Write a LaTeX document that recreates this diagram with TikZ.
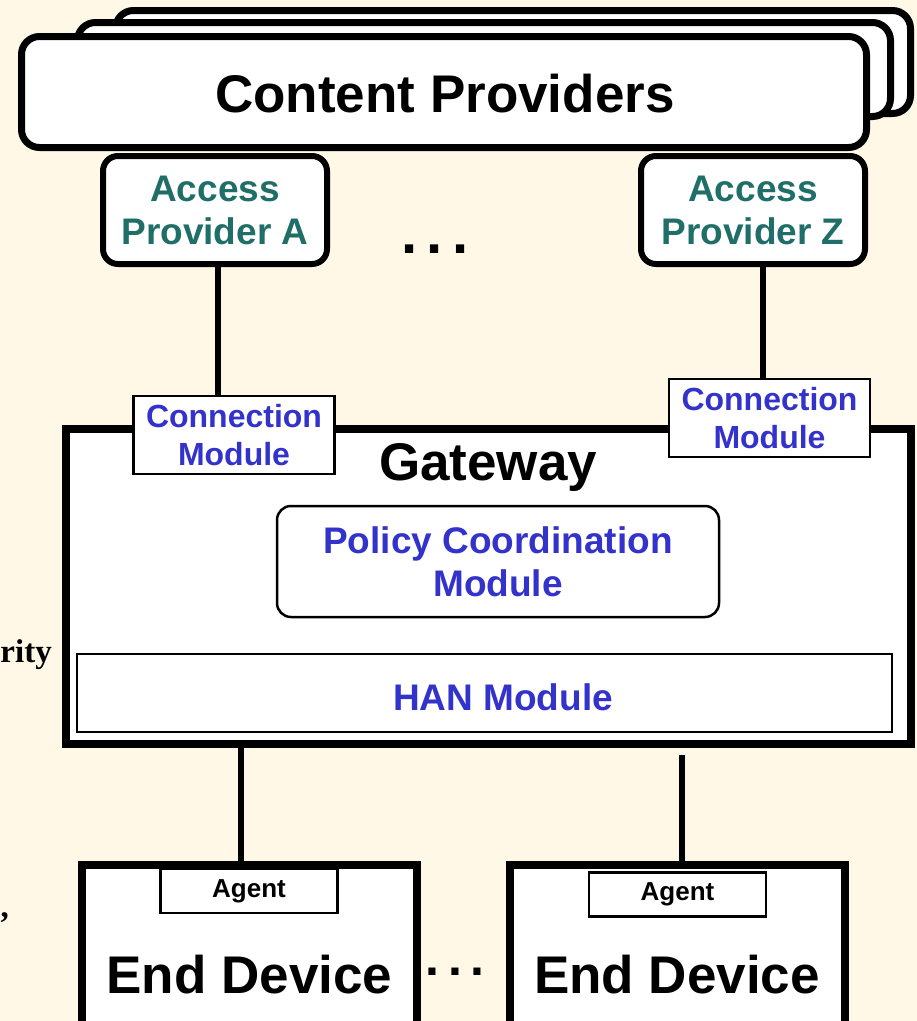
\documentclass[tikz,border=0pt]{standalone}
\usepackage{fontspec}
\setmainfont{Liberation Sans}
\newfontfamily\serifbold{Liberation Serif}
\definecolor{bgcream}{HTML}{FFF8E6}
\definecolor{apteal}{HTML}{1F6E68}
\definecolor{modblue}{HTML}{3333CC}

\begin{document}
\begin{tikzpicture}[x=1pt, y=-1pt, font=\bfseries,
        cp/.style = {draw, line width=7pt, rounded corners=18pt, fill=white},
        ap/.style = {draw, line width=6pt, rounded corners=15pt, fill=white, minimum width=224pt, minimum height=108pt, text=apteal, align=center, font=\bfseries\fontsize{37}{43}\selectfont},
        conn/.style = {draw, line width=2.5pt, fill=white, minimum width=201pt, minimum height=78pt, text=modblue, align=center, font=\bfseries\fontsize{32}{38}\selectfont},
        agent/.style = {draw, line width=2.5pt, fill=white, minimum width=177pt, minimum height=44pt, font=\bfseries\fontsize{26}{30}\selectfont},
        device/.style = {draw, line width=8pt, fill=white, minimum width=335pt, minimum height=200pt},
        big/.style = {inner sep=0pt, font=\bfseries\fontsize{53}{60}\selectfont},
        wire/.style = {line width=6pt}]

        \useasboundingbox (0,0) rectangle (917,1021);
        \clip (0,0) rectangle (917,1021);
        \fill[bgcream] (0,0) rectangle (917,1021);

        % content providers stack
        \node[cp, minimum width=795pt, minimum height=103pt] (cp3) at (513,62) {};
        \node[cp, minimum width=813pt, minimum height=94pt] (cp2) at (484,69.5) {};
        \node[cp, minimum width=845pt, minimum height=111pt] (cp1) at (444,92) {};
        \node[big] (cptext) at (445,93.5) {Content Providers};

        \node[ap] (apA) at (215,210) {Access\\Provider A};
        \node[ap] (apZ) at (753,210) {Access\\Provider Z};
        \node[inner sep=0pt, font=\bfseries\fontsize{58}{60}\selectfont] (dotsA) at (435,249) {.\,.\,.};

        % gateway
        \node[draw, line width=8pt, fill=white, minimum width=845pt, minimum height=315pt] (gw) at (488.5,586.5) {};
        \node[big, anchor=base] (gwtext) at (488,480) {Gateway};
        \node[conn] (connA) at (234,435) {Connection\\Module};
        \node[conn] (connZ) at (769.5,418) {Connection\\Module};
        \node[draw, line width=2.5pt, rounded corners=14pt, minimum width=442pt, minimum height=111pt, text=modblue, align=center, font=\bfseries\fontsize{37}{43}\selectfont] (pcm) at (498,561.5) {Policy Coordination\\Module};
        \node[draw, line width=2.5pt, minimum width=815pt, minimum height=78pt] (han) at (484.5,693) {};
        \node[inner sep=0pt, text=modblue, font=\bfseries\fontsize{37}{43}\selectfont] (hantext) at (503,697) {HAN Module};

        % end devices
        \node[device, anchor=north] (devL) at (249.5,861) {};
        \node[device, anchor=north] (devR) at (677,861) {};
        \node[agent] (agL) at (249,891) {Agent};
        \node[agent] (agR) at (677.5,894.5) {Agent};
        \node[big, anchor=base] (devLtext) at (249.5,993) {End Device};
        \node[big, anchor=base] (devRtext) at (677,993) {End Device};
        \node[inner sep=0pt, font=\bfseries\fontsize{50}{60}\selectfont] (dotsB) at (455,972) {.\,.\,.};

        \coordinate (gwR) at (682,755);

        \draw[wire] ([xshift=3pt]apA.south) -- ([xshift=3pt]apA.south |- connA.north);
        \draw[wire] ([xshift=10pt]apZ.south) -- ([xshift=10pt]apZ.south |- connZ.north);
        \draw[wire] (gw.south -| 241,0) -- (devL.north -| 241,0);
        \draw[wire] (gwR) -- ([yshift=-6pt]devR.north -| gwR);

        % cut-off text on the left
        \node[anchor=base east, inner sep=0pt, font=\serifbold\bfseries\fontsize{33}{36}\selectfont] (leftA) at (52,662) {rity};
        \node[anchor=base east, inner sep=0pt, font=\serifbold\bfseries\fontsize{33}{36}\selectfont] (leftB) at (9,917) {,};

    \end{tikzpicture}
\end{document}
